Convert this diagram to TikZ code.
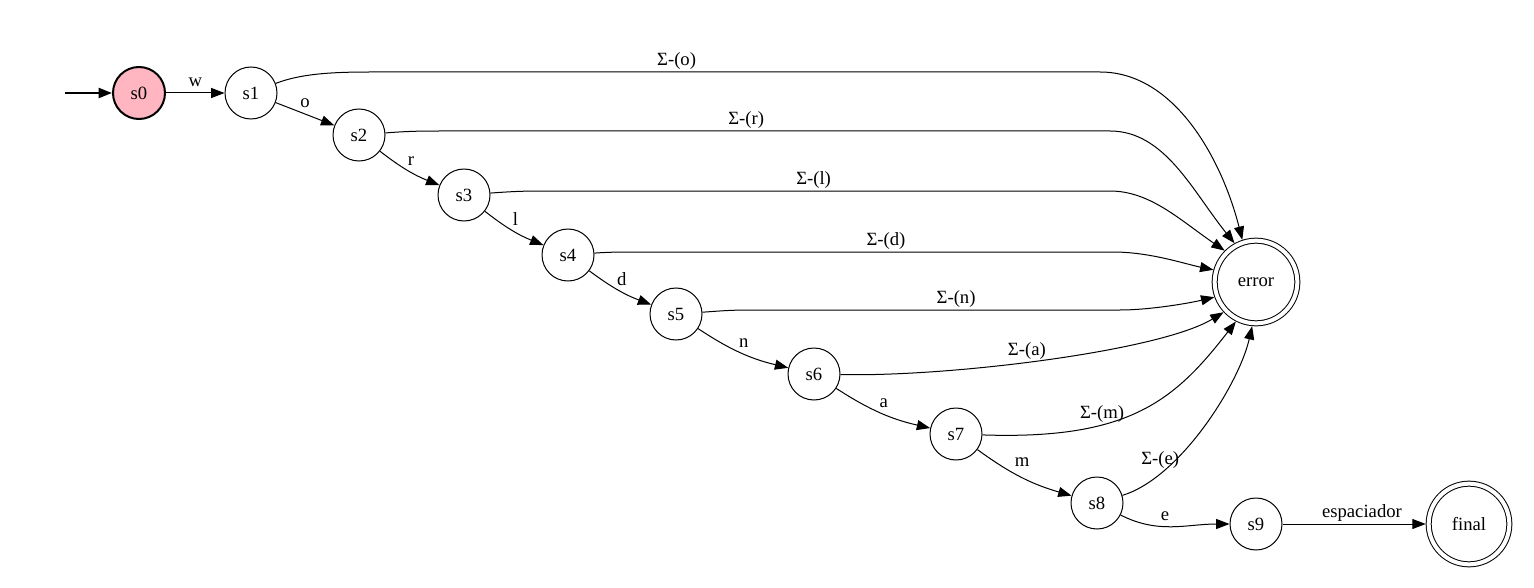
\documentclass[tikz,border=0pt]{standalone}
\usepackage{fontspec}
\setmainfont{Liberation Serif}
\usetikzlibrary{arrows.meta}
\definecolor{lightpink}{HTML}{FFB6C1}

\begin{document}
\begin{tikzpicture}[x = 0.75pt, y = -0.75pt,
    every node/.style = { font = \fontsize{14}{16}\selectfont },
    state/.style = { draw, circle, minimum size = 39pt, inner sep = 0pt, line width = 0.75pt },
    accept/.style = { state, double, double distance = 3pt, minimum size = 62pt, outer sep = 2.25pt },
    edge/.style = { -{Triangle[length = 10pt, width = 7.5pt]}, line width = 0.75pt },
    lbl/.style = { inner sep = 1.5pt, text height = 9.5pt, text depth = 3pt }]
    \useasboundingbox (0,0) rectangle (1534,588);

    % states
    \node[state, fill = lightpink, line width = 1.5pt] (s0) at (139,93) { s0 };
    \node[state] (s1) at (251,93) { s1 };
    \node[state] (s2) at (359,135) { s2 };
    \node[state] (s3) at (464,195) { s3 };
    \node[state] (s4) at (568,255) { s4 };
    \node[state] (s5) at (676,314) { s5 };
    \node[state] (s6) at (814,374) { s6 };
    \node[state] (s7) at (956,434) { s7 };
    \node[state] (s8) at (1097,503) { s8 };
    \node[state] (s9) at (1256,524) { s9 };
    \node[accept] (error) at (1256,282) { error };
    \node[accept, minimum size = 60.5pt] (final) at (1469,524) { final };
    \coordinate (start) at (65,93);

    % chain
    \draw[edge, line width = 1.5pt] (start) -- (s0);
    \draw[edge] (s0) -- node[lbl, above] (lw) { w } (s1);
    \draw[edge] (s1) -- node[lbl, above] (lo) { o } (s2);
    \draw[edge] (s2) to[bend right = 8] node[lbl, above, pos = 0.55] (lr) { r } (s3);
    \draw[edge] (s3) to[bend right = 8] node[lbl, above, pos = 0.55] (ll) { l } (s4);
    \draw[edge] (s4) to[bend right = 8] node[lbl, above, pos = 0.55] (ld) { d } (s5);
    \draw[edge] (s5) to[bend right = 10] node[lbl, above, pos = 0.53] (ln) { n } (s6);
    \draw[edge] (s6) to[bend right = 10] node[lbl, above, pos = 0.53] (la) { a } (s7);
    \draw[edge] (s7) to[bend right = 10] node[lbl, above, pos = 0.5, yshift = 3pt] (lm) { m } (s8);
    \draw[edge] (s8) to[out = -27, in = 180] node[lbl, above, pos = 0.42] (le) { e } (s9);
    \draw[edge] (s9) -- node[lbl, above, pos = 0.555] (lsp) { espaciador } (final);

    % to error
    \draw[edge] (s1) .. controls (300,74) and (330,72) .. (370,72) -- node[lbl, above, pos = 0.42] (eo) { Σ-(o) } (1100,72) .. controls (1175,72) and (1222,160) .. (error.108);
    \draw[edge] (s2) .. controls (410,131) and (425,131) .. (440,131) -- node[lbl, above, pos = 0.457] (er) { Σ-(r) } (1110,131) .. controls (1165,131) and (1193,192) .. (error.119);
    \draw[edge] (s3) .. controls (505,192) and (520,191) .. (540,191) -- node[lbl, above, pos = 0.48] (el) { Σ-(l) } (1110,191) .. controls (1150,191) and (1180,220) .. (error.135);
    \draw[edge] (s4) .. controls (610,252) and (620,252) .. (640,252) -- node[lbl, above, pos = 0.52] (ed) { Σ-(d) } (1113,252) .. controls (1150,252) and (1185,264) .. (error.164);
    \draw[edge] (s5) .. controls (720,311) and (730,310) .. (750,310) -- node[lbl, above, pos = 0.557] (en) { Σ-(n) } (1120,310) .. controls (1150,310) and (1190,303) .. (error.200);
    \draw[edge] (s6) .. controls (950,377) and (1160,351) .. node[lbl, above, pos = 0.45] (ea) { Σ-(a) } (error.223);
    \draw[edge] (s7) .. controls (1130,440) and (1175,400) .. node[lbl, above, pos = 0.34] (em) { Σ-(m) } (error.243);
    \draw[edge] (s8) .. controls (1180,478) and (1239,384) .. node[lbl, left = 1pt, pos = 0.36, yshift = -6pt] (ee) { Σ-(e) } (error.265);
\end{tikzpicture}
\end{document}
